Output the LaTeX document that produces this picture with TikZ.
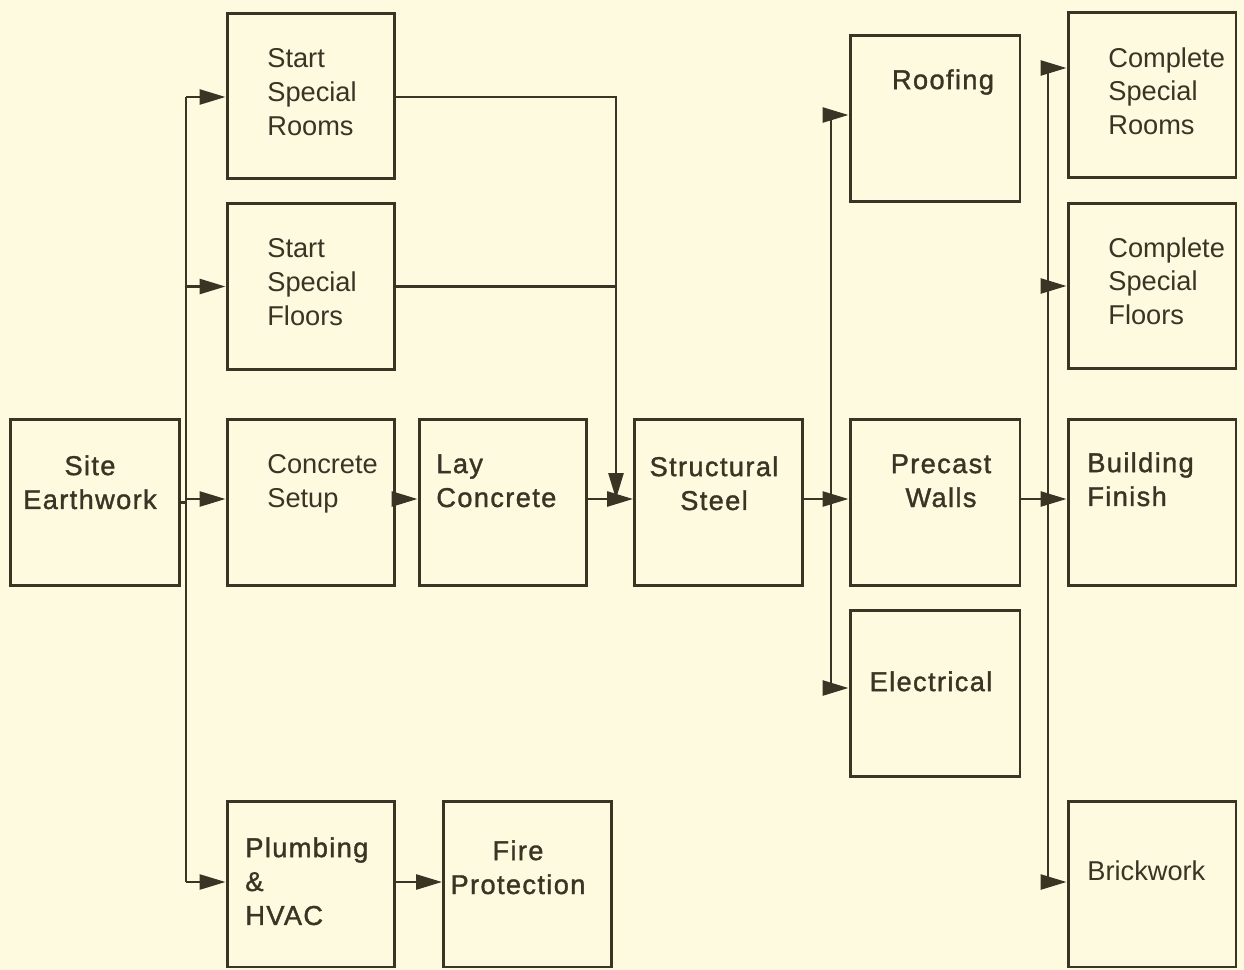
\documentclass[tikz,border=0pt]{standalone}
\usepackage{fontspec}
\setmainfont{Liberation Sans}
\newfontfamily\medf[LetterSpace=5,FakeBold=1.3]{Liberation Sans}
\usetikzlibrary{arrows.meta}
\definecolor{bgc}{RGB}{253,250,224}
\definecolor{ink}{RGB}{58,52,36}
\tikzset{
  boxnode/.style={draw=ink, line width=1.7pt, minimum width=3.36cm, minimum height=3.32cm, inner sep=0pt},
  txt/.style={inner sep=0pt, text=ink, font=\fontsize{15.5pt}{19.3pt}\selectfont},
  mtxt/.style={inner sep=0pt, text=ink, font=\fontsize{15.5pt}{19.3pt}\selectfont\medf},
  wire/.style={draw=ink, line width=1.5pt},
  arr/.style={draw=ink, line width=1.5pt, -{Triangle[length=0.52cm, width=0.3cm]}}
}
\begin{document}
\begin{tikzpicture}[x=0.02cm, y=-0.02cm]
\fill[bgc] (0,0) rectangle (1244,970);
\useasboundingbox (0,0) rectangle (1244,970);
% boxes
\node[boxnode, minimum width=3.4cm] (se) at (95,502.5) {};
\node[boxnode] (ssr) at (311,96) {};
\node[boxnode] (ssf) at (311,286.5) {};
\node[boxnode] (cs) at (311,502.5) {};
\node[boxnode] (lc) at (503,502.5) {};
\node[boxnode] (ss) at (718.5,502.5) {};
\node[boxnode, minimum width=3.4cm] (rf) at (935,118.5) {};
\node[boxnode, minimum width=3.4cm] (pw) at (935,502.5) {};
\node[boxnode, minimum width=3.4cm] (el) at (935,693.5) {};
\node[boxnode] (csr) at (1152,95) {};
\node[boxnode] (csf) at (1152,286) {};
\node[boxnode] (bf) at (1152,502.5) {};
\node[boxnode] (bw) at (1152,884) {};
\node[boxnode] (ph) at (311,884) {};
\node[boxnode] (fp) at (527.5,884) {};
% texts
\node[mtxt, align=center, anchor=north] (tse) at (90,455) {Site\\Earthwork};
\node[txt, align=left, anchor=north west] (tssr) at (267,48) {Start\\Special\\Rooms};
\node[txt, align=left, anchor=north west] (tssf) at (267,238) {Start\\Special\\Floors};
\node[txt, align=left, anchor=north west] (tcs) at (267,454) {Concrete\\Setup};
\node[mtxt, align=left, anchor=north west] (tlc) at (436,454) {Lay\\Concrete};
\node[mtxt, align=center, anchor=north] (tss) at (714,456) {Structural\\Steel};
\node[mtxt, align=center, anchor=north] (trf) at (943,69) {Roofing};
\node[mtxt, align=center, anchor=north] (tpw) at (941,454) {Precast\\Walls};
\node[mtxt, align=center, anchor=north] (tel) at (931,671) {Electrical};
\node[txt, align=left, anchor=north west] (tcsr) at (1108,47) {Complete\\Special\\Rooms};
\node[txt, align=left, anchor=north west] (tcsf) at (1108,237) {Complete\\Special\\Floors};
\node[mtxt, align=left, anchor=north west] (tbf) at (1087,452) {Building\\Finish};
\node[txt, align=left, anchor=north west] (tbw) at (1087,860) {Brickwork};
\node[mtxt, align=left, anchor=north west] (tph) at (245,837) {Plumbing\\\&\\HVAC};
\node[mtxt, align=center, anchor=north] (tfp) at (518,840) {Fire\\Protection};
% bus coordinates
\coordinate (b1) at (186,97);
\coordinate (b1e) at (186,882);
\coordinate (b2) at (831,115);
\coordinate (b2e) at (831,688);
\coordinate (b3) at (1048,68);
\coordinate (b3e) at (1048,882);
\coordinate (j) at (616,499);
% bus 1
\draw[wire] (b1) -- (b1e);
\draw[wire] (se.east) -- (se.east -| b1);
\draw[arr] (b1) -- (b1 -| ssr.west);
\draw[arr] (b1 |- ssf.west) -- (ssf.west);
\draw[arr] (b1 |- j) -- (cs.west |- j);
\draw[arr] (b1e) -- (b1e -| ph.west);
% chain
\draw[arr] (cs.east |- j) -- (lc.west |- j);
\draw[arr] (lc.east |- j) -- (ss.west |- j);
\draw[arr] (ssr.east |- b1) -| (j);
\draw[wire] (ssf.east) -- (ssf.east -| j);
\draw[arr] (ph.east |- b1e) -- (fp.west |- b1e);
% bus 2
\draw[wire] (b2) -- (b2e);
\draw[wire] (ss.east |- j) -- (b2 |- j);
\draw[arr] (b2) -- (b2 -| rf.west);
\draw[arr] (b2 |- j) -- (pw.west |- j);
\draw[arr] (b2e) -- (b2e -| el.west);
% bus 3
\draw[wire] (b3) -- (b3e);
\draw[wire] (pw.east |- j) -- (b3 |- j);
\draw[arr] (b3) -- (b3 -| csr.west);
\draw[arr] (b3 |- csf.west) -- (csf.west);
\draw[arr] (b3 |- j) -- (bf.west |- j);
\draw[arr] (b3e) -- (b3e -| bw.west);
\end{tikzpicture}
\end{document}
